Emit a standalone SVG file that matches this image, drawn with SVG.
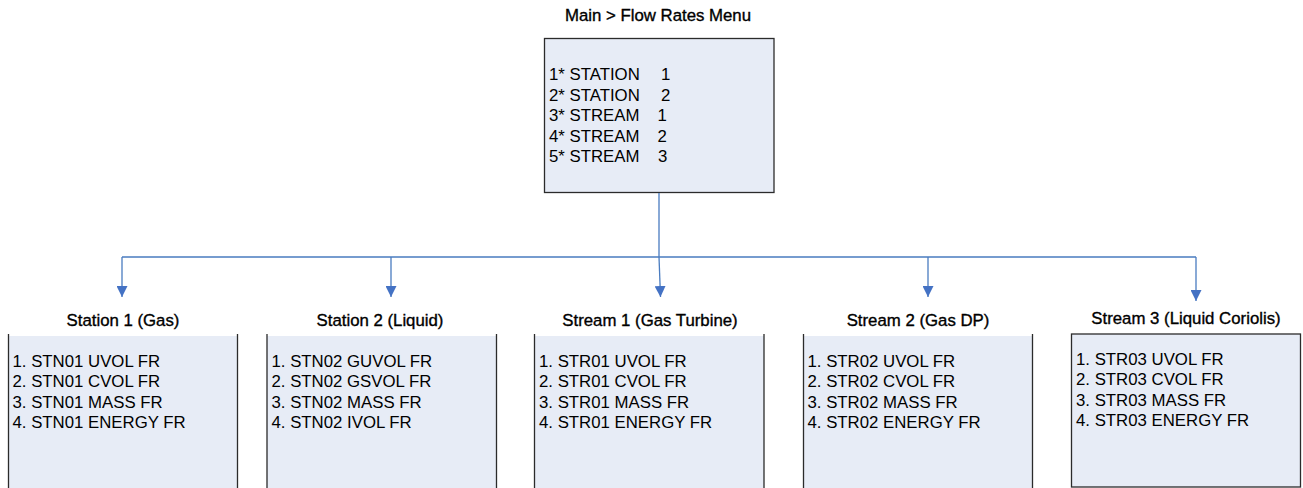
<svg xmlns="http://www.w3.org/2000/svg" width="1303" height="488" viewBox="0 0 1303 488">
<style>
text{font-family:"Liberation Sans",Arial,sans-serif;font-size:16.8px;fill:#000}
.t{text-anchor:middle;stroke:#000;stroke-width:0.35}
.box{fill:#e7ecf6}
.side{fill:none;stroke:#2b2b2b;stroke-width:1.3}
.con{fill:none;stroke:#4a7cc0;stroke-width:1.3}
</style>
<defs>
<marker id="ah" viewBox="0 0 10 10" refX="10" refY="5" markerWidth="11" markerHeight="11" markerUnits="userSpaceOnUse" orient="auto">
<path d="M0,0 L10,5 L0,10 Z" fill="#4472c4"/>
</marker>
</defs>
<rect width="1303" height="488" fill="#fff"/>
<g id="main">
<text class="t" x="658" y="21">Main &gt; Flow Rates Menu</text>
<rect class="box" x="544.5" y="38.5" width="229.5" height="154" stroke="#2b2b2b" stroke-width="1.3"/>
<text x="549" y="80">1* STATION<tspan x="661">1</tspan></text>
<text x="549" y="100.5">2* STATION<tspan x="661">2</tspan></text>
<text x="549" y="121">3* STREAM<tspan x="657.5">1</tspan></text>
<text x="549" y="141.5">4* STREAM<tspan x="657.5">2</tspan></text>
<text x="549" y="162">5* STREAM<tspan x="658">3</tspan></text>
</g>
<g id="connectors">
<path class="con" d="M659,193 V257 M122,257 H1196"/>
<path class="con" d="M122,257 V297" marker-end="url(#ah)"/>
<path class="con" d="M391,257 V297" marker-end="url(#ah)"/>
<path class="con" d="M659,257 L660.5,297" marker-end="url(#ah)"/>
<path class="con" d="M928,257 V297" marker-end="url(#ah)"/>
<path class="con" d="M1196,257 V301" marker-end="url(#ah)"/>
</g>
<g id="station1">
<text class="t" x="123" y="326">Station 1 (Gas)</text>
<rect class="box" x="8.5" y="336" width="229" height="160"/>
<path class="side" d="M8.5,334 V496 M237.5,334 V496"/>
<text x="12.5" y="366.5">1. STN01 UVOL FR</text>
<text x="12.5" y="387">2. STN01 CVOL FR</text>
<text x="12.5" y="407.5">3. STN01 MASS FR</text>
<text x="12.5" y="428">4. STN01 ENERGY FR</text>
</g>
<g id="station2">
<text class="t" x="380" y="326">Station 2 (Liquid)</text>
<rect class="box" x="267" y="336" width="229.5" height="160"/>
<path class="side" d="M267,334 V496 M496.5,334 V496"/>
<text x="271.5" y="366.5">1. STN02 GUVOL FR</text>
<text x="271.5" y="387">2. STN02 GSVOL FR</text>
<text x="271.5" y="407.5">3. STN02 MASS FR</text>
<text x="271.5" y="428">4. STN02 IVOL FR</text>
</g>
<g id="stream1">
<text class="t" x="650" y="326">Stream 1 (Gas Turbine)</text>
<rect class="box" x="534.5" y="336" width="229.5" height="160"/>
<path class="side" d="M534.5,334 V496 M764,334 V496"/>
<text x="539" y="366.5">1. STR01 UVOL FR</text>
<text x="539" y="387">2. STR01 CVOL FR</text>
<text x="539" y="407.5">3. STR01 MASS FR</text>
<text x="539" y="428">4. STR01 ENERGY FR</text>
</g>
<g id="stream2">
<text class="t" x="918" y="326">Stream 2 (Gas DP)</text>
<rect class="box" x="803.5" y="336" width="229" height="160"/>
<path class="side" d="M803.5,334 V496 M1032.5,334 V496"/>
<text x="807.5" y="366.5">1. STR02 UVOL FR</text>
<text x="807.5" y="387">2. STR02 CVOL FR</text>
<text x="807.5" y="407.5">3. STR02 MASS FR</text>
<text x="807.5" y="428">4. STR02 ENERGY FR</text>
</g>
<g id="stream3">
<text class="t" x="1186" y="324">Stream 3 (Liquid Coriolis)</text>
<rect class="box" x="1071.5" y="334" width="229" height="153" stroke="#2b2b2b" stroke-width="1.3"/>
<text x="1076" y="364.5">1. STR03 UVOL FR</text>
<text x="1076" y="385">2. STR03 CVOL FR</text>
<text x="1076" y="405.5">3. STR03 MASS FR</text>
<text x="1076" y="426">4. STR03 ENERGY FR</text>
</g>
</svg>
